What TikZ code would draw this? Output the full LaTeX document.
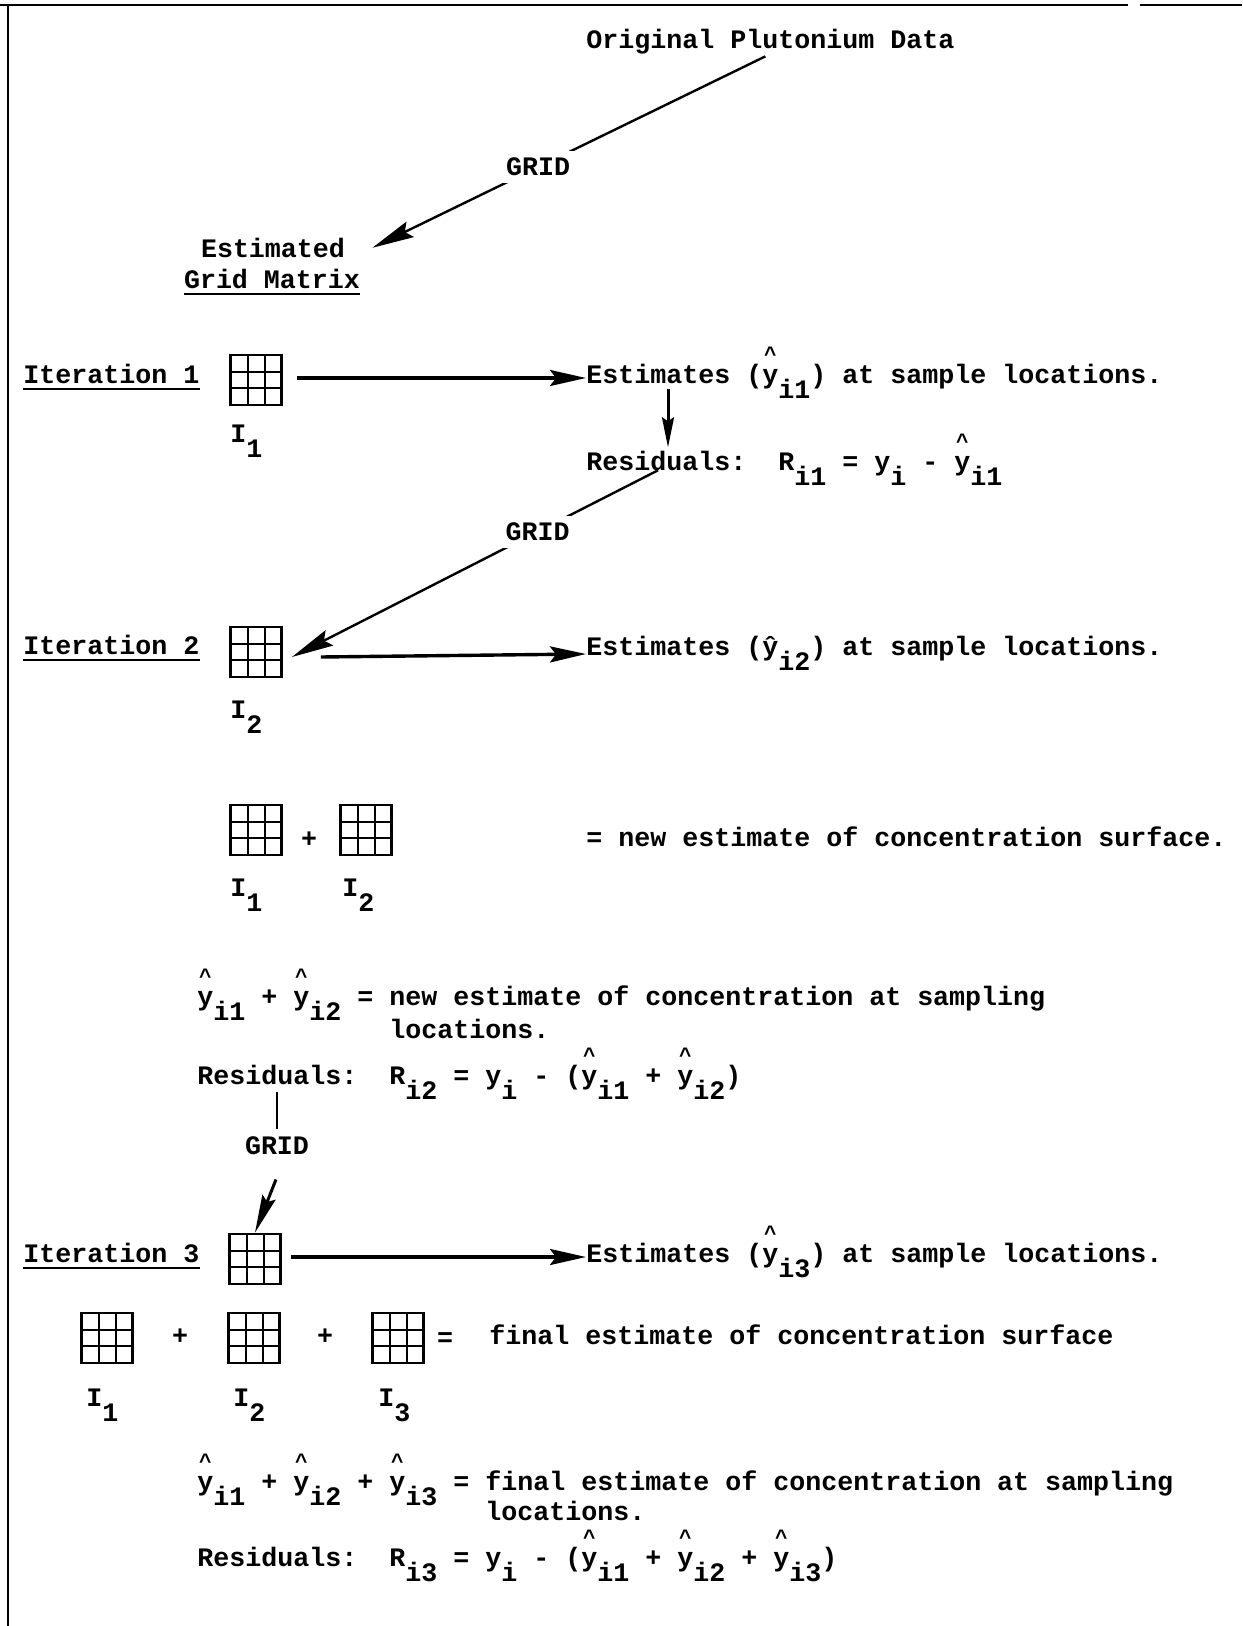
\documentclass[tikz,border=0pt]{standalone}
\usepackage{fontspec}
\newfontfamily\tw{Liberation Mono}
\usetikzlibrary{arrows.meta,calc}
\newcommand\dn[1]{\raisebox{-7.5pt}{#1}}
\newcommand\hy{\makebox[0pt][l]{\makebox[8pt]{\raisebox{11pt}{\fontsize{10.5pt}{10.5pt}\selectfont\textasciicircum}}}y}
\newcommand\ppb{path picture bounding box}
\tikzset{
  fnt/.style={inner sep=0pt, font={\tw\bfseries\fontsize{13.33pt}{16pt}\selectfont\frenchspacing}},
  txt/.style={fnt, yshift=-2pt},
  gridlbl/.style={fnt, fill=white, inner sep=3.5pt},
  gridbox/.style={draw, line width=1.4pt, minimum width=25.5pt, minimum height=25pt, inner sep=0pt,
    path picture={
      \draw[line width=1pt]
        ($(\ppb.south west)!1/3!(\ppb.south east)$) -- ($(\ppb.north west)!1/3!(\ppb.north east)$)
        ($(\ppb.south west)!2/3!(\ppb.south east)$) -- ($(\ppb.north west)!2/3!(\ppb.north east)$)
        ($(\ppb.south west)!1/3!(\ppb.north west)$) -- ($(\ppb.south east)!1/3!(\ppb.north east)$)
        ($(\ppb.south west)!2/3!(\ppb.north west)$) -- ($(\ppb.south east)!2/3!(\ppb.north east)$);
    }},
  bigarrow/.style={line width=1.7pt, -{Stealth[length=18pt,width=8pt,inset=3pt]}},
  diagarrow/.style={line width=1.2pt, -{Stealth[length=21pt,width=8.5pt,inset=3pt]}},
  vertarrow/.style={line width=1.5pt, -{Stealth[length=15pt,width=6pt,inset=2pt]}},
  slantarrow/.style={line width=1.5pt, -{Stealth[length=19pt,width=7pt,inset=2.5pt]}},
  plainline/.style={line width=1.1pt},
  ulline/.style={line width=1.1pt},
  border/.style={line width=1pt}
}
\begin{document}
\begin{tikzpicture}[x=0.5pt,y=-0.5pt]
\useasboundingbox (0,0) rectangle (1242,1626);
% border
\draw[border] (0,5) -- (1128,5);
\draw[border] (1140,5) -- (1242,5);
\draw[border] (8,5) -- (8,1626);

% top
\node[txt, anchor=mid west] (orig) at (586,40) {Original Plutonium Data};
\node[txt, anchor=mid] (estim) at (273,249) {Estimated};
\node[txt, anchor=mid] (gmat) at (272,280) {Grid Matrix};
\draw[ulline] ([yshift=-3pt]gmat.base west) -- ([yshift=-3pt]gmat.base east);
\draw[diagarrow] ([shift={(-2.5pt,-1pt)}]orig.south) -- node[pos=0.578, gridlbl] (gl1) {GRID} ([shift={(13.5pt,0pt)}]estim.east);

% iteration 1
\node[txt, anchor=mid west] (it1) at (23,375) {Iteration 1};
\draw[ulline] ([yshift=-3pt]it1.base west) -- ([yshift=-3pt]it1.base east);
\node[gridbox] (g1) at (256,380) {};
\node[txt, anchor=mid west] (i1a) at (230,434) {I\dn{1}};
\node[txt, anchor=mid west] (est1) at (586,375) {Estimates (\hy\dn{i1}) at sample locations.};
\draw[bigarrow] ([xshift=7pt,yshift=1pt]g1.east) -- ([yshift=1pt]g1.east -| est1.west);
\node[txt, anchor=mid west] (res1) at (586,462) {Residuals:\ \ R\dn{i1} = y\dn{i} - \hy\dn{i1}};
\draw[vertarrow] ([xshift=41pt,yshift=-3pt]est1.base west) -- ([xshift=41pt,yshift=11.5pt]res1.base west);

% iteration 2
\node[txt, anchor=mid west] (it2) at (23,646) {Iteration 2};
\draw[ulline] ([yshift=-3pt]it2.base west) -- ([yshift=-3pt]it2.base east);
\node[gridbox] (g2) at (256,652) {};
\node[txt, anchor=mid west] (i2a) at (230,710) {I\dn{2}};
\node[txt, anchor=mid west] (est2) at (586,647) {Estimates (ŷ\dn{i2}) at sample locations.};
\draw[diagarrow] ([xshift=36pt,yshift=0pt]res1.base west) -- node[pos=0.329, gridlbl] (gl2) {GRID} ([xshift=4.5pt,yshift=-2.5pt]g2.east);
\draw[bigarrow] ([xshift=19pt,yshift=-2.5pt]g2.east) -- ([yshift=-1pt]g2.east -| est2.west);

% sum I1 + I2
\node[gridbox] (ga) at (256,830) {};
\node[txt] (plusa) at (309,836) {+};
\node[gridbox] (gb) at (366,830) {};
\node[txt, anchor=mid west] (la1) at (230,888) {I\dn{1}};
\node[txt, anchor=mid west] (la2) at (342,888) {I\dn{2}};
\node[txt, anchor=mid west] (newsurf) at (586,838) {= new estimate of concentration surface.};

\node[txt, anchor=mid west] (newloc) at (197,997) {\hy\dn{i1} + \hy\dn{i2} = new estimate of concentration at sampling};
\node[txt, anchor=mid west] (loc2) at (389,1030) {locations.};
\node[txt, anchor=mid west] (res2) at (197,1076) {Residuals:\ \ R\dn{i2} = y\dn{i} - (\hy\dn{i1} + \hy\dn{i2})};
\node[txt] (gl3) at (277,1142) {GRID};
\draw[plainline] ([xshift=40pt,yshift=-4pt]res2.base west) -- ([yshift=4pt]gl3.north);

% iteration 3
\node[txt, anchor=mid west] (it3) at (23,1254) {Iteration 3};
\draw[ulline] ([yshift=-3pt]it3.base west) -- ([yshift=-3pt]it3.base east);
\node[gridbox] (g3) at (255,1259) {};
\draw[slantarrow] ([shift={(-0.5pt,-12pt)}]gl3.south) -- (g3.north);
\node[txt, anchor=mid west] (est3) at (586,1254) {Estimates (\hy\dn{i3}) at sample locations.};
\draw[bigarrow] ([xshift=4.5pt,yshift=1pt]g3.east) -- ([yshift=1pt]g3.east -| est3.west);

% final sum
\node[gridbox] (f1) at (107,1338) {};
\node[txt] (p1) at (180,1333) {+};
\node[gridbox] (f2) at (254,1338) {};
\node[txt] (p2) at (325,1333) {+};
\node[gridbox] (f3) at (398,1338) {};
\node[txt] (eqf) at (445,1336) {=};
\node[txt, anchor=mid west] (finsurf) at (489,1336) {final estimate of concentration surface};
\node[txt, anchor=mid west] (lf1) at (86,1398) {I\dn{1}};
\node[txt, anchor=mid west] (lf2) at (233,1398) {I\dn{2}};
\node[txt, anchor=mid west] (lf3) at (378,1398) {I\dn{3}};

\node[txt, anchor=mid west] (finloc) at (197,1482) {\hy\dn{i1} + \hy\dn{i2} + \hy\dn{i3} = final estimate of concentration at sampling};
\node[txt, anchor=mid west] (loc3) at (485,1512) {locations.};
\node[txt, anchor=mid west] (res3) at (197,1558) {Residuals:\ \ R\dn{i3} = y\dn{i} - (\hy\dn{i1} + \hy\dn{i2} + \hy\dn{i3})};
\end{tikzpicture}
\end{document}
